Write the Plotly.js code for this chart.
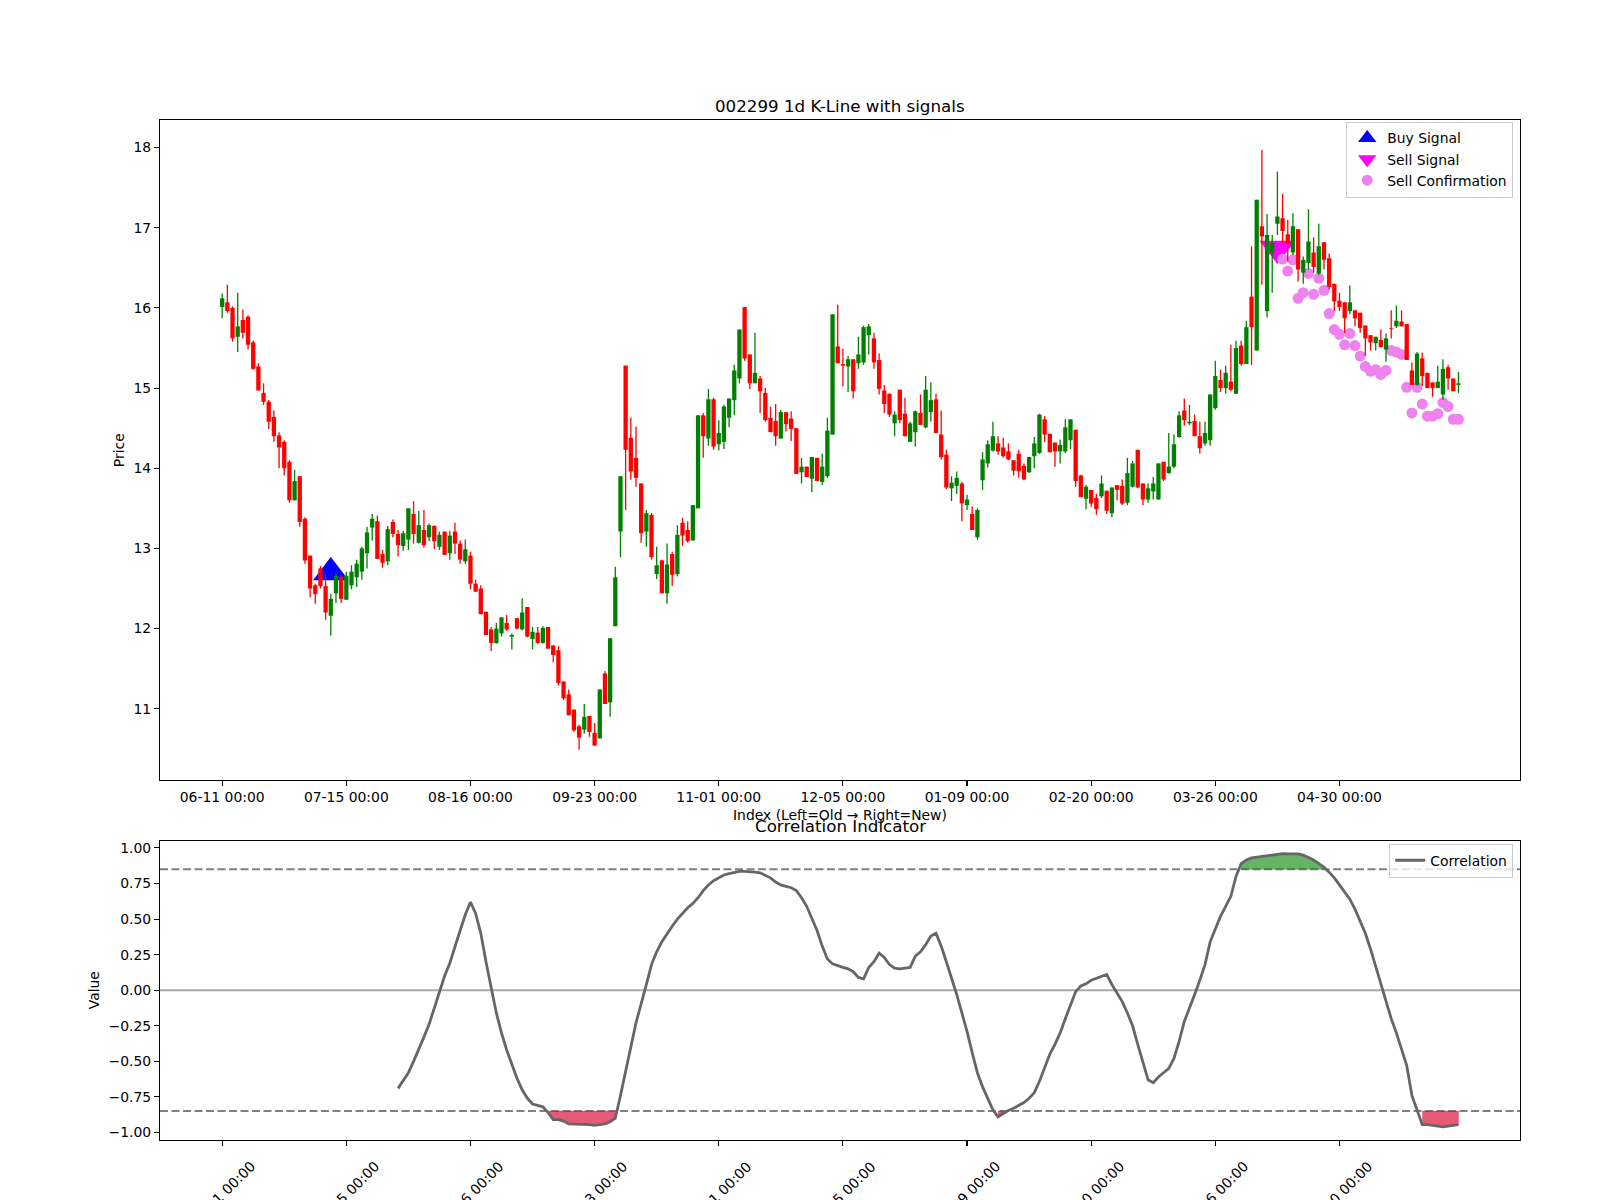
<!DOCTYPE html>
<html><head><meta charset="utf-8">
<script src="https://cdn.plot.ly/plotly-3.0.1.min.js"></script>
<style>html,body{margin:0;padding:0;background:#fff;}</style>
</head><body><div id="chart" style="width:1600px;height:1200px;"></div>
<script>
const tickIdx = [0,24,48,72,96,120,144,168,192,216];
const tickLabels = ["06-11 00:00","07-15 00:00","08-16 00:00","09-23 00:00","11-01 00:00","12-05 00:00","01-09 00:00","02-20 00:00","03-26 00:00","04-30 00:00"];

const openP = [
16.01,16.07,16.00,15.64,15.85,15.89,15.57,15.27,14.94,14.83,
14.64,14.41,14.33,14.08,13.60,13.90,13.37,12.91,12.54,12.75,
12.53,12.16,12.44,12.64,12.36,12.54,12.64,12.71,12.94,13.26,
13.34,12.93,12.84,13.33,13.18,13.03,13.11,13.43,13.07,13.23,
13.14,13.28,13.02,13.21,12.94,13.21,13.06,12.84,12.91,12.56,
12.50,12.21,11.99,11.82,11.94,12.07,11.90,12.13,11.99,12.27,
11.87,11.95,11.82,12.02,11.79,11.73,11.34,11.18,10.99,10.78,
10.74,10.91,10.70,10.63,11.44,11.08,12.03,13.21,15.28,14.38,
14.13,13.81,13.21,13.42,12.68,12.85,12.44,12.93,12.68,13.32,
13.23,13.10,13.50,14.66,14.37,14.86,14.30,14.33,14.63,14.85,
15.12,16.01,15.42,15.06,15.12,14.94,14.63,14.59,14.37,14.70,
14.62,14.50,13.95,14.02,13.87,14.13,13.83,13.90,14.42,15.52,
15.30,15.27,15.36,15.31,15.32,15.66,15.62,15.35,14.97,14.93,
14.56,14.98,14.68,14.33,14.45,14.69,14.51,14.70,14.86,14.42,
14.17,13.75,13.78,13.81,13.54,13.43,13.14,13.85,14.06,14.22,
14.31,14.26,14.21,14.10,14.18,14.03,13.95,14.15,14.19,14.61,
14.43,14.32,14.21,14.21,14.35,14.48,13.91,13.62,13.73,13.63,
13.65,13.72,13.44,13.79,13.78,13.57,13.77,14.23,13.81,13.61,
13.71,13.61,14.08,13.94,14.02,14.39,14.72,14.56,14.59,14.40,
14.31,14.35,14.75,15.10,15.00,15.08,14.93,15.53,15.30,16.14,
15.47,17.02,15.96,16.69,17.05,17.12,16.92,16.69,16.98,16.44,
16.56,16.69,16.43,16.82,16.62,16.30,16.09,16.07,15.96,15.97,
15.94,15.78,15.66,15.56,15.60,15.48,15.75,15.77,15.83,15.80,
15.22,15.04,15.37,15.19,15.07,15.00,14.92,15.26,15.12,15.04];

const highP = [
16.18,16.29,16.02,16.19,15.98,15.91,15.59,15.31,15.06,14.85,
14.72,14.45,14.35,14.10,13.98,13.90,13.39,12.91,12.56,12.78,
12.67,12.43,12.69,12.67,12.71,12.79,12.86,13.02,13.27,13.43,
13.41,12.98,13.28,13.36,13.23,13.22,13.50,13.59,13.47,13.48,
13.31,13.29,13.21,13.21,13.22,13.32,13.10,13.11,12.96,12.61,
12.54,12.21,12.02,12.07,12.14,12.17,11.94,12.13,12.38,12.27,
12.02,12.02,12.03,12.02,11.79,11.78,11.34,11.24,10.99,10.80,
11.06,10.91,10.82,11.24,11.47,11.88,12.77,13.90,15.28,14.63,
14.52,13.81,13.48,13.44,13.02,12.86,13.06,12.96,13.29,13.38,
13.34,13.54,14.66,14.69,14.99,14.88,14.60,14.79,14.87,15.29,
15.73,16.01,15.42,15.69,15.15,15.00,14.77,14.80,14.73,14.70,
14.71,14.50,14.13,14.02,14.14,14.13,14.18,14.63,15.92,16.04,
15.49,15.40,15.36,15.64,15.78,15.80,15.69,15.43,15.04,14.93,
14.71,14.98,14.88,14.58,14.72,14.92,15.15,15.07,14.93,14.72,
14.23,13.90,13.96,13.83,13.67,13.52,13.50,14.20,14.35,14.58,
14.40,14.38,14.31,14.10,14.23,14.06,14.14,14.39,14.68,14.65,
14.43,14.32,14.36,14.61,14.61,14.48,13.92,13.79,13.73,13.68,
13.91,13.72,13.76,13.79,13.86,14.13,14.09,14.23,13.81,13.81,
13.89,14.06,14.08,14.44,14.42,14.71,14.87,14.79,14.67,14.58,
14.58,14.92,15.34,15.23,15.28,15.54,15.59,15.59,15.84,16.77,
17.35,17.97,17.17,16.91,17.70,17.42,17.10,17.18,16.98,16.64,
17.23,16.88,17.05,16.82,16.68,16.30,16.19,16.07,16.28,15.97,
15.94,15.78,15.66,15.64,15.73,15.68,15.97,16.03,15.97,15.80,
15.32,15.45,15.44,15.19,15.07,15.28,15.36,15.29,15.12,15.20];

const lowP = [
15.87,15.94,15.58,15.45,15.62,15.48,15.23,14.97,14.79,14.49,
14.33,14.00,13.91,13.57,13.60,13.27,12.81,12.39,12.31,12.50,
12.11,11.91,12.32,12.32,12.36,12.49,12.52,12.61,12.75,13.10,
12.87,12.76,12.79,13.14,12.90,12.97,12.98,13.06,13.06,13.01,
13.09,12.99,12.98,12.92,12.86,12.93,12.81,12.81,12.49,12.46,
12.18,11.92,11.72,11.81,11.90,11.97,11.74,11.99,11.98,11.89,
11.74,11.81,11.81,11.75,11.58,11.29,11.11,10.92,10.71,10.49,
10.69,10.65,10.54,10.63,11.06,10.90,12.03,12.89,13.48,13.86,
13.77,13.07,13.02,12.86,12.62,12.44,12.31,12.53,12.65,13.03,
13.07,13.10,13.50,14.13,14.28,14.23,14.22,14.24,14.51,14.66,
15.06,15.34,14.99,15.06,14.69,14.58,14.45,14.28,14.37,14.46,
14.34,13.93,13.81,13.89,13.70,13.84,13.79,13.88,14.42,15.31,
15.02,14.95,14.87,15.24,15.29,15.42,15.24,14.92,14.69,14.64,
14.40,14.56,14.40,14.33,14.27,14.54,14.50,14.58,14.44,14.11,
13.74,13.59,13.68,13.34,13.48,13.23,13.11,13.73,14.01,14.21,
14.17,14.13,14.10,13.91,13.88,13.85,13.94,14.00,14.18,14.33,
14.20,14.02,14.06,14.19,14.24,13.77,13.64,13.49,13.52,13.42,
13.63,13.43,13.39,13.60,13.54,13.54,13.76,13.75,13.54,13.57,
13.61,13.61,13.84,13.93,14.00,14.38,14.53,14.54,14.40,14.18,
14.28,14.28,14.73,14.95,14.93,14.96,14.93,15.28,15.30,15.29,
15.47,16.29,15.88,16.19,16.91,16.81,16.58,16.66,16.33,16.30,
16.48,16.44,16.41,16.48,16.23,15.96,15.96,15.69,15.92,15.77,
15.69,15.40,15.47,15.47,15.51,15.33,15.62,15.75,15.77,15.35,
15.04,15.03,15.03,15.00,14.89,15.00,14.85,14.98,14.96,14.94];

const closeP = [
16.12,15.96,15.62,15.77,15.69,15.54,15.24,14.97,14.83,14.58,
14.40,14.26,14.00,13.60,13.84,13.33,12.85,12.50,12.43,12.53,
12.20,12.37,12.66,12.37,12.66,12.71,12.81,13.00,13.20,13.37,
12.87,12.82,13.24,13.18,13.04,13.19,13.50,13.18,13.29,13.04,
13.29,13.09,13.17,12.92,13.16,13.06,12.86,12.99,12.56,12.46,
12.18,11.92,11.82,12.00,12.14,11.99,11.92,12.00,12.20,11.90,
11.96,11.82,12.01,11.75,11.67,11.32,11.13,10.92,10.73,10.64,
10.90,10.71,10.54,11.24,11.06,11.88,12.64,13.90,14.23,13.96,
13.88,13.19,13.44,12.89,12.79,12.44,12.80,12.67,13.17,13.16,
13.09,13.54,14.66,14.40,14.86,14.27,14.44,14.77,14.87,15.22,
15.73,15.37,15.06,15.19,14.96,14.60,14.45,14.40,14.70,14.55,
14.49,13.93,14.02,13.89,14.14,13.84,14.02,14.47,15.92,15.31,
15.28,15.36,14.96,15.42,15.76,15.77,15.32,14.99,14.80,14.67,
14.67,14.60,14.40,14.56,14.71,14.54,14.98,14.85,14.44,14.14,
13.76,13.82,13.88,13.56,13.61,13.23,13.48,14.11,14.30,14.40,
14.21,14.15,14.11,13.97,13.96,13.86,14.14,14.31,14.67,14.42,
14.20,14.21,14.29,14.51,14.61,13.84,13.64,13.77,13.56,13.49,
13.81,13.47,13.76,13.73,13.56,13.94,14.06,13.76,13.61,13.75,
13.81,14.06,13.86,14.02,14.30,14.66,14.60,14.58,14.40,14.25,
14.44,14.92,15.15,15.00,15.19,14.98,15.50,15.30,15.76,15.76,
17.35,16.89,16.91,16.81,17.14,16.96,16.80,17.02,16.48,16.60,
16.83,16.51,16.77,16.60,16.26,16.08,16.01,15.87,16.07,15.87,
15.75,15.62,15.57,15.64,15.51,15.62,15.74,15.84,15.77,15.35,
15.04,15.43,15.15,15.00,15.00,15.08,15.24,15.12,14.96,15.06];

const buyIdx = [21];
const buyPrice = [12.70];
const sellIdx = [204];
const sellPrice = [16.74];
const confIdx = [205,206,207,208,209,210,211,212,213,214,215,216,217,218,219,220,221,222,223,224,225,226,227,228,229,230,231,232,233,234,235,236,237,238,239];
const confPrice = [16.61,16.46,16.60,16.12,16.19,16.43,16.17,16.37,16.22,15.93,15.73,15.67,15.54,15.68,15.53,15.40,15.27,15.21,15.23,15.17,15.22,15.47,15.45,15.42,15.01,14.69,15.01,14.80,14.65,14.65,14.68,14.82,14.77,14.61,14.61];

const corrStart = 34;
const corrVals = [
-0.69,-0.63,-0.58,-0.50,-0.42,-0.33,-0.24,-0.13,-0.01,0.10,
0.19,0.31,0.42,0.53,0.62,0.54,0.40,0.20,0.02,-0.16,
-0.30,-0.42,-0.52,-0.62,-0.70,-0.76,-0.80,-0.81,-0.82,-0.86,
-0.91,-0.91,-0.92,-0.94,-0.94,-0.94,-0.945,-0.945,-0.95,-0.945,
-0.94,-0.925,-0.90,-0.74,-0.56,-0.40,-0.23,-0.10,0.04,0.18,
0.27,0.34,0.40,0.45,0.50,0.54,0.58,0.61,0.65,0.70,
0.74,0.77,0.79,0.81,0.82,0.83,0.835,0.835,0.835,0.83,
0.825,0.81,0.79,0.76,0.74,0.73,0.72,0.70,0.65,0.59,
0.51,0.42,0.31,0.22,0.185,0.17,0.16,0.15,0.13,0.09,
0.08,0.16,0.20,0.26,0.23,0.18,0.155,0.15,0.155,0.16,
0.24,0.27,0.32,0.38,0.40,0.31,0.20,0.09,-0.03,-0.16,
-0.29,-0.44,-0.58,-0.68,-0.76,-0.84,-0.89,-0.865,-0.845,-0.83,
-0.81,-0.79,-0.76,-0.72,-0.64,-0.54,-0.45,-0.38,-0.30,-0.20,
-0.11,-0.01,0.03,0.045,0.07,0.085,0.10,0.11,0.04,-0.02,
-0.08,-0.16,-0.25,-0.38,-0.50,-0.63,-0.65,-0.61,-0.58,-0.55,
-0.48,-0.36,-0.22,-0.13,-0.03,0.07,0.18,0.34,0.43,0.52,
0.59,0.66,0.80,0.89,0.915,0.93,0.935,0.94,0.943,0.95,
0.955,0.96,0.958,0.96,0.958,0.95,0.935,0.915,0.89,0.865,
0.83,0.79,0.74,0.69,0.64,0.57,0.49,0.40,0.29,0.17,
0.05,-0.07,-0.20,-0.30,-0.42,-0.53,-0.74,-0.84,-0.945,-0.945,
-0.948,-0.955,-0.96,-0.955,-0.945,-0.945];
const upperTh = 0.85;
const lowerTh = -0.85;

const FONT = 'DejaVu Sans, Liberation Sans, sans-serif';
const UP = '#008000', DOWN = '#ff0000';

function segs(isUp, a, b) {
  const xs = [], ys = [];
  for (let i = 0; i < openP.length; i++) {
    if ((closeP[i] >= openP[i]) === isUp) {
      xs.push(i, i, null); ys.push(a[i], b[i], null);
    }
  }
  return {xs, ys};
}

const traces = [];
traces.push({type:'scatter', mode:'markers', x:buyIdx, y:buyPrice, name:'Buy Signal',
  marker:{symbol:'triangle-up', color:'blue', size:31}, xaxis:'x', yaxis:'y'});
traces.push({type:'scatter', mode:'markers', x:sellIdx, y:sellPrice, name:'Sell Signal',
  marker:{symbol:'triangle-down', color:'magenta', size:31}, xaxis:'x', yaxis:'y'});
traces.push({type:'scatter', mode:'markers', x:confIdx, y:confPrice, name:'Sell Confirmation',
  marker:{symbol:'circle', color:'violet', size:11}, xaxis:'x', yaxis:'y'});

[true,false].forEach(up => {
  const col = up ? UP : DOWN;
  const w = segs(up, lowP, highP);
  traces.push({type:'scatter', mode:'lines', x:w.xs, y:w.ys, line:{color:col, width:1.3},
    showlegend:false, hoverinfo:'skip', xaxis:'x', yaxis:'y'});
  const b = segs(up, openP, closeP);
  traces.push({type:'scatter', mode:'lines', x:b.xs, y:b.ys, line:{color:col, width:4.3},
    showlegend:false, hoverinfo:'skip', xaxis:'x', yaxis:'y'});
});

const corrIdx = corrVals.map((_, k) => corrStart + k);
function runs(cond) {
  const out = []; let s = -1;
  for (let k = 0; k <= corrVals.length; k++) {
    const ok = k < corrVals.length && cond(corrVals[k]);
    if (ok && s < 0) s = k;
    if (!ok && s >= 0) { out.push([s, k - 1]); s = -1; }
  }
  return out;
}
function addFills(cond, th, color) {
  runs(cond).forEach(([s, e]) => {
    const xs = corrIdx.slice(s, e + 1), ys = corrVals.slice(s, e + 1);
    const xr = xs.slice().reverse(), yr = xs.map(() => th);
    traces.push({type:'scatter', mode:'lines', x:xs.concat(xr), y:ys.concat(yr), fill:'toself',
      fillcolor:color, line:{color:color, width:0.5}, showlegend:false, hoverinfo:'skip',
      xaxis:'x2', yaxis:'y2'});
  });
}
addFills(v => v > upperTh, upperTh, 'rgba(0,128,0,0.6)');
addFills(v => v < lowerTh, lowerTh, 'rgba(220,20,60,0.7)');

traces.push({type:'scatter', mode:'lines', x:corrIdx, y:corrVals, name:'Correlation',
  line:{color:'#666666', width:2.8}, xaxis:'x2', yaxis:'y2', legend:'legend2'});

const axBase = {ticks:'outside', ticklen:5, tickwidth:1.1, tickcolor:'#000', showline:true, mirror:true,
  linecolor:'#000', linewidth:1.1, showgrid:false, zeroline:false, tickfont:{family:FONT, size:13.9, color:'#000'}};
const xRange = [-12.02, 250.9];

const annotations = [
  {text:'002299 1d K-Line with signals', xref:'paper', yref:'paper', x:0.5, y:1.0142, xanchor:'center', yanchor:'middle', showarrow:false, font:{family:FONT, size:16.7, color:'#000'}},
  {text:'Index (Left=Old \u2192 Right=New)', xref:'paper', yref:'paper', x:0.5, y:0.3191, xanchor:'center', yanchor:'middle', showarrow:false, font:{family:FONT, size:13.9, color:'#000'}},
  {text:'Correlation Indicator', xref:'paper', yref:'paper', x:0.5, y:0.3083, xanchor:'center', yanchor:'middle', showarrow:false, font:{family:FONT, size:16.7, color:'#000'}},
  {text:'Price', xref:'paper', yref:'paper', x:-0.0306, y:0.6767, xanchor:'center', yanchor:'middle', textangle:-90, showarrow:false, font:{family:FONT, size:13.9, color:'#000'}},
  {text:'Value', xref:'paper', yref:'paper', x:-0.0486, y:0.1467, xanchor:'center', yanchor:'middle', textangle:-90, showarrow:false, font:{family:FONT, size:13.9, color:'#000'}}
];
tickIdx.forEach((t, k) => {
  annotations.push({text:tickLabels[k], xref:'x2', yref:'paper', x:t, y:-0.0525, xanchor:'center', yanchor:'middle',
    textangle:-45, showarrow:false, font:{family:FONT, size:13.9, color:'#000'}});
});

const shapes = [
  {type:'line', xref:'x2 domain', yref:'y2', x0:0, x1:1, y0:0, y1:0, line:{color:'#aaaaaa', width:2}, layer:'below'},
  {type:'line', xref:'x2 domain', yref:'y2', x0:0, x1:1, y0:upperTh, y1:upperTh, line:{color:'#808080', width:2, dash:'8px,3.5px'}, layer:'below'},
  {type:'line', xref:'x2 domain', yref:'y2', x0:0, x1:1, y0:lowerTh, y1:lowerTh, line:{color:'#808080', width:2, dash:'8px,3.5px'}, layer:'below'}
];

const layout = {
  width:1600, height:1200, margin:{l:160, r:80, t:120, b:60},
  paper_bgcolor:'#fff', plot_bgcolor:'#fff',
  font:{family:FONT, size:13.9, color:'#000'},
  showlegend:true,
  xaxis:Object.assign({}, axBase, {domain:[0,1], anchor:'y', range:xRange, tickmode:'array', tickvals:tickIdx, ticktext:tickLabels}),
  yaxis:Object.assign({}, axBase, {domain:[0.3533,1], anchor:'x', range:[10.116,18.344], tickmode:'array', tickvals:[11,12,13,14,15,16,17,18]}),
  xaxis2:Object.assign({}, axBase, {domain:[0,1], anchor:'y2', range:xRange, tickmode:'array', tickvals:tickIdx, showticklabels:false}),
  yaxis2:Object.assign({}, axBase, {domain:[0,0.2933], anchor:'x2', range:[-1.053,1.05], tickmode:'array', tickvals:[-1,-0.75,-0.5,-0.25,0,0.25,0.5,0.75,1], tickformat:'.2f'}),
  legend:{x:0.995, xanchor:'right', y:0.9985, yanchor:'top', bgcolor:'rgba(255,255,255,0.8)', bordercolor:'#cccccc', borderwidth:1, font:{family:FONT, size:13.9, color:'#000'}},
  legend2:{x:0.995, xanchor:'right', y:0.2905, yanchor:'top', bgcolor:'rgba(255,255,255,0.8)', bordercolor:'#cccccc', borderwidth:1, font:{family:FONT, size:13.9, color:'#000'}},
  annotations:annotations,
  shapes:shapes,
  hovermode:false
};

Plotly.newPlot('chart', traces, layout, {displayModeBar:false, staticPlot:true});
</script>
</body></html>
